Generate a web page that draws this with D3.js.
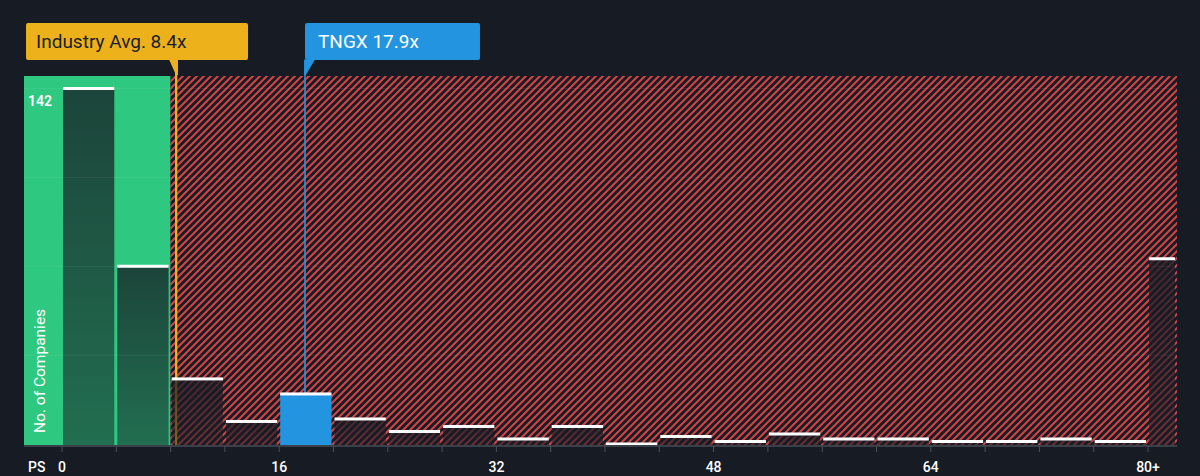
<!DOCTYPE html>
<html>
<head>
<meta charset="utf-8">
<script src="https://cdn.jsdelivr.net/npm/d3@7"></script>
<style>
  html, body { margin: 0; padding: 0; background: #161b24; }
  svg { display: block; font-family: Roboto, "Noto Sans", sans-serif; }
</style>
</head>
<body>
<svg id="chart" width="1200" height="476"></svg>
<script>
// ---- data ----
const binStarts = [0, 4, 8, 12, 16, 20, 24, 28, 32, 36, 40, 44, 48, 52, 56, 60, 64, 68, 72, 76, 80];
const binWidth = 4;
const counts = [142, 71, 26, 9, 20, 10, 5, 7, 2, 7, 0, 3, 1, 4, 2, 2, 1, 1, 2, 1, 74];
const tickValues = [0, 16, 32, 48, 64, 80];
const tickLabels = ["0", "16", "32", "48", "64", "80+"];
const industryAvg = 8.4;
const industryLabel = "Industry Avg. 8.4x";
const company = 17.9;
const companyLabel = "TNGX 17.9x";
const fairThreshold = 8;   // green region ends here
const yMax = 147;
const gridValues = [35.5, 71, 106.5, 142];

// ---- layout ----
const W = 1200, H = 476;
const plot = { left: 24, right: 1177, top: 76, bottom: 445 };

const svg = d3.select("#chart");
const x = d3.scaleLinear().domain([0, 80]).range([62, 1148]);
const y = d3.scaleLinear().domain([0, yMax]).range([444, plot.top]);
const xEnd = x.invert(plot.right);

const bins = binStarts.map((s, i) => ({
  x0: s,
  x1: i === binStarts.length - 1 ? xEnd : s + binWidth,
  v: counts[i]
}));

// ---- defs ----
const defs = svg.append("defs");
const pat = defs.append("pattern")
  .attr("id", "hatch").attr("patternUnits", "userSpaceOnUse")
  .attr("width", 7).attr("height", 7);
pat.append("rect").attr("width", 7).attr("height", 7).attr("fill", "#161b24");
pat.append("path").attr("d", "M-1,1 l2,-2 M0,7 l7,-7 M6,8 l2,-2")
  .attr("stroke", "#d04346").attr("stroke-width", 2.1);

const grad = defs.append("linearGradient").attr("id", "barGrad")
  .attr("x1", 0).attr("y1", 0).attr("x2", 0).attr("y2", 1);
grad.append("stop").attr("offset", 0).attr("stop-color", "#161b24").attr("stop-opacity", 0.76);
grad.append("stop").attr("offset", 1).attr("stop-color", "#161b24").attr("stop-opacity", 0.52);

// ---- backgrounds ----
svg.append("rect").attr("width", W).attr("height", H).attr("fill", "#161b24");

svg.append("rect")
  .attr("x", plot.left).attr("y", plot.top)
  .attr("width", x(fairThreshold) - plot.left).attr("height", plot.bottom - plot.top)
  .attr("fill", "#2ec880");
svg.append("rect")
  .attr("x", x(fairThreshold)).attr("y", plot.top)
  .attr("width", plot.right - x(fairThreshold)).attr("height", plot.bottom - plot.top)
  .attr("fill", "url(#hatch)");

// ---- reference lines (under bars) ----
const labelTop = 23, labelBottom = 60, ptrBottom = 75;
svg.append("rect")
  .attr("x", x(industryAvg) - 1).attr("y", labelBottom)
  .attr("width", 2.2).attr("height", plot.bottom - labelBottom)
  .attr("fill", "#f0b21c");
svg.append("rect")
  .attr("x", x(company) - 0.8).attr("y", labelBottom)
  .attr("width", 1.6).attr("height", y(counts[4]) - labelBottom)
  .attr("fill", "#2394df");

// ---- bars ----
const barG = svg.append("g");
bins.forEach((b, i) => {
  const bx = x(b.x0) + 1;
  const bw = x(b.x1) - x(b.x0) - 3;
  const isCompany = company >= b.x0 && company < b.x1;
  barG.append("rect")
    .attr("x", bx).attr("y", y(b.v))
    .attr("width", bw).attr("height", y(0) + 1 - y(b.v))
    .attr("fill", isCompany ? "#2394df" : "url(#barGrad)");
  barG.append("rect")
    .attr("x", bx).attr("y", y(b.v) - 1.5)
    .attr("width", bw).attr("height", 3)
    .attr("fill", "#ffffff");
});

// ---- gridlines ----
svg.append("g").selectAll("line").data(gridValues).join("line")
  .attr("x1", plot.left).attr("x2", plot.right)
  .attr("y1", d => y(d)).attr("y2", d => y(d))
  .attr("stroke", "#ffffff").attr("stroke-opacity", 0.07).attr("stroke-width", 1);

// ---- x axis ----
svg.append("rect")
  .attr("x", plot.left).attr("y", plot.bottom)
  .attr("width", plot.right - plot.left).attr("height", 2)
  .attr("fill", "#3a404a");
svg.append("g").selectAll("line").data(binStarts).join("line")
  .attr("x1", d => x(d)).attr("x2", d => x(d))
  .attr("y1", plot.bottom + 1).attr("y2", plot.bottom + 7)
  .attr("stroke", "#4a505a").attr("stroke-width", 1);
svg.append("g").selectAll("text").data(tickValues).join("text")
  .attr("x", d => x(d)).attr("y", 472)
  .attr("text-anchor", "middle")
  .attr("font-size", 14).attr("font-weight", 500)
  .attr("fill", "#ffffff")
  .text((d, i) => tickLabels[i]);
svg.append("text").attr("x", 28).attr("y", 472)
  .attr("font-size", 14).attr("font-weight", 500).attr("fill", "#ffffff").text("PS");

// ---- y label & max label ----
svg.append("text")
  .attr("transform", `translate(45,433) rotate(-90)`)
  .attr("font-size", 15.5).attr("fill", "#ffffff")
  .text("No. of Companies");
svg.append("text").attr("x", 28).attr("y", y(counts[0]) + 17)
  .attr("font-size", 14).attr("font-weight", 600).attr("fill", "#ffffff")
  .text(String(counts[0]));

// ---- callout labels ----
const ia = x(industryAvg);
svg.append("rect")
  .attr("x", ia - 150).attr("y", labelTop)
  .attr("width", 222).attr("height", labelBottom - labelTop)
  .attr("rx", 2).attr("fill", "#edb11b");
svg.append("path")
  .attr("d", `M${ia - 7},${labelBottom - 0.5} L${ia + 2},${labelBottom - 0.5} L${ia + 2},${ptrBottom} L${ia},${ptrBottom} Z`)
  .attr("fill", "#edb11b");
svg.append("text")
  .attr("x", ia - 140).attr("y", labelBottom - 12)
  .attr("font-size", 19).attr("fill", "#1b1f27")
  .text(industryLabel);

const cx = x(company);
svg.append("rect")
  .attr("x", cx).attr("y", labelTop)
  .attr("width", 175).attr("height", labelBottom - labelTop)
  .attr("rx", 2).attr("fill", "#2394df");
svg.append("path")
  .attr("d", `M${cx - 0.8},${labelBottom - 0.5} L${cx + 10},${labelBottom - 0.5} L${cx + 0.8},${ptrBottom} L${cx - 0.8},${ptrBottom} Z`)
  .attr("fill", "#2394df");
svg.append("text")
  .attr("x", cx + 13).attr("y", labelBottom - 12)
  .attr("font-size", 19).attr("fill", "#ffffff")
  .text(companyLabel);
</script>
</body>
</html>
